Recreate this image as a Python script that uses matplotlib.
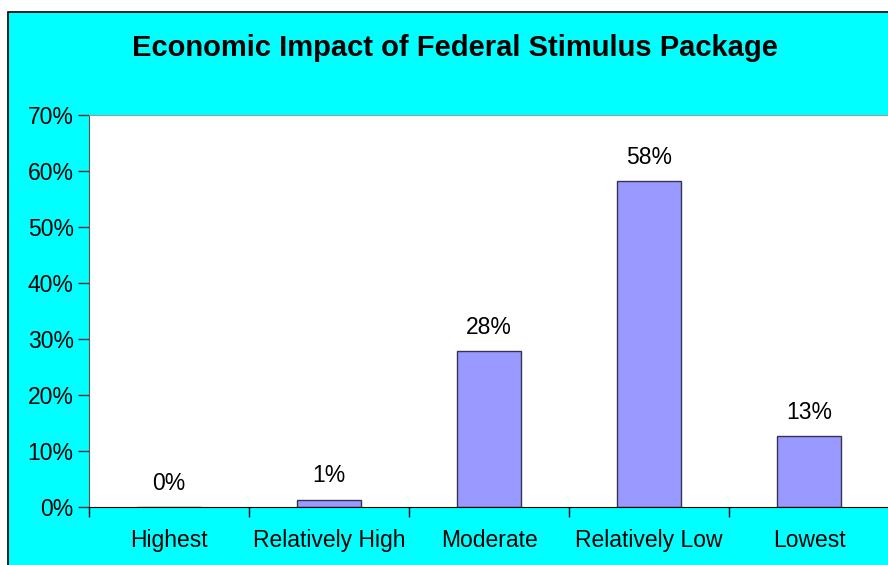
import numpy as np
import matplotlib.pyplot as plt
from matplotlib.patches import Rectangle
from matplotlib.ticker import FuncFormatter

# Données
categories = ["Highest", "Relatively High", "Moderate", "Relatively Low", "Lowest"]
valeurs = [0.0, 1.3, 27.8, 58.2, 12.6]  # en %
etiquettes = ["0%", "1%", "28%", "58%", "13%"]

plt.rcParams['font.family'] = ['Liberation Sans', 'DejaVu Sans']

W, H = 888, 565
f = plt.figure(figsize=(W / 100, H / 100), dpi=100, facecolor='white')

# Fond cyan avec bordure noire (déborde à droite et en bas)
f.patches.append(Rectangle((7.5 / W, -0.05), (W - 7.5) / W + 0.05, (H - 11.5) / H + 0.05,
                           transform=f.transFigure, facecolor='#00FFFF', edgecolor='black',
                           linewidth=1.2, zorder=-1))

ax = f.add_axes([89 / W, (H - 507) / H, 800 / W, 392 / H])
ax.set_zorder(1)
ax.set_facecolor('white')

x = np.arange(len(categories))
ax.bar(x, valeurs, width=0.4, color='#9999FF', edgecolor='#333355', linewidth=1)

for xi, v, lab in zip(x, valeurs, etiquettes):
    ax.annotate(lab, (xi, v), xytext=(0, 9), textcoords='offset points',
                ha='center', va='bottom', fontsize=16.5)

ax.set_xlim(-0.5, 4.5)
ax.set_ylim(0, 70)
ax.set_yticks(np.arange(0, 71, 10))
ax.yaxis.set_major_formatter(FuncFormatter(lambda v, p: "{:.0f}%".format(v)))
ax.tick_params(axis='y', direction='out', length=8, width=1, labelsize=16.5, pad=3, color='#333333')

ax.set_xticks(x)
ax.set_xticklabels(categories, fontsize=16.5)
ax.set_xticks(np.arange(-0.5, 4.6, 1), minor=True)
ax.tick_params(axis='x', which='major', length=0, pad=16)
ax.tick_params(axis='x', which='minor', direction='out', length=7, width=1, color='black')

ax.spines['right'].set_visible(False)
ax.spines['top'].set_color('#999999')
ax.spines['left'].set_color('#555555')
ax.spines['bottom'].set_color('black')

f.text(455 / W, 1 - 48 / H, "Economic Impact of Federal Stimulus Package",
       ha='center', va='center', fontsize=21, fontweight='bold')

f.savefig("out.png", dpi=100, facecolor=f.get_facecolor())
